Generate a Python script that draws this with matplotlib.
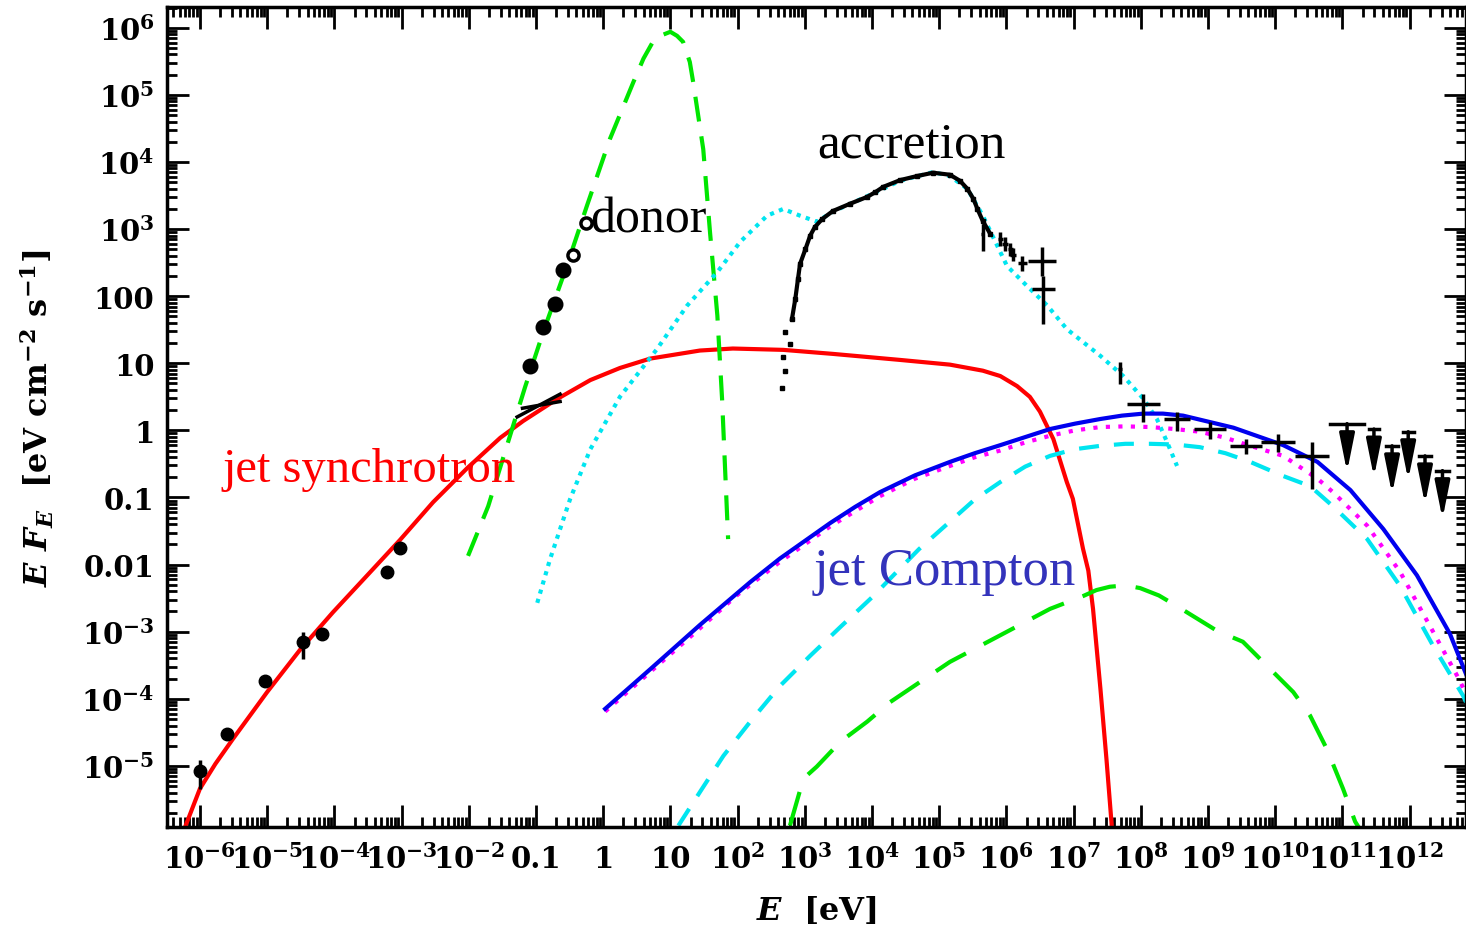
import numpy as np
import matplotlib
matplotlib.use('Agg')
import matplotlib.pyplot as plt
from matplotlib.ticker import LogLocator, NullFormatter

plt.rcParams['mathtext.fontset'] = 'custom'
plt.rcParams['mathtext.rm'] = 'DejaVu Serif:bold'
plt.rcParams['mathtext.it'] = 'DejaVu Serif:italic:bold'
plt.rcParams['mathtext.bf'] = 'DejaVu Serif:bold'

# ---- model curves (log10 E [eV], log10 EF_E [eV cm^-2 s^-1]) ----
sync_logE = [-6.22, -6.00, -5.77, -5.51, -5.00, -4.51, -4.02, -3.51, -3.02, -2.53, -2.02,
             -1.53, -1.19, -0.68, -0.19, 0.25, 0.70, 1.44, 1.93, 2.68, 3.42, 4.42, 5.16,
             5.65, 5.91, 6.16, 6.35, 6.50, 6.70, 6.90, 6.99, 7.14, 7.22, 7.29, 7.40, 7.49, 7.57]
sync_logF = [-5.91, -5.34, -4.97, -4.60, -3.90, -3.27, -2.71, -2.16, -1.63, -1.07, -0.56,
             -0.11, 0.14, 0.47, 0.75, 0.93, 1.07, 1.19, 1.22, 1.20, 1.14, 1.05, 0.98,
             0.89, 0.81, 0.66, 0.50, 0.28, -0.13, -0.77, -1.02, -1.76, -2.09, -2.66, -3.85,
             -4.90, -5.91]

donor_logE = [-2.01, -1.71, -1.16, -0.89, -0.54, -0.24, 0.10, 0.45, 0.60, 0.74, 0.85, 1.0,
              1.10, 1.19, 1.29, 1.34, 1.49, 1.59, 1.70, 1.77, 1.86]
donor_logF = [-1.87, -1.13, 0.65, 1.47, 2.45, 3.35, 4.34, 5.19, 5.54, 5.79, 5.88, 5.94,
              5.88, 5.79, 5.49, 5.19, 4.19, 2.96, 1.71, 0.47, -1.62]

disk_logE = [-0.98, -0.79, -0.49, -0.19, 0.25, 0.80, 1.25, 1.70, 2.04, 2.44, 2.68, 2.93,
             3.18, 3.42, 3.93, 4.42, 4.91, 5.16, 5.42, 5.65, 6.01, 6.31, 6.61, 6.90, 7.40,
             7.74, 8.04, 8.24, 8.39, 8.54]
disk_logF = [-2.57, -1.92, -1.02, -0.28, 0.50, 1.21, 1.86, 2.36, 2.81, 3.20, 3.30, 3.20,
             3.11, 3.26, 3.49, 3.72, 3.85, 3.79, 3.60, 3.20, 2.45, 2.15, 1.86, 1.51, 1.11,
             0.81, 0.47, 0.17, -0.17, -0.53]

comp_logE = [0.03, 0.70, 1.44, 2.19, 2.63, 3.38, 3.75, 4.12, 4.64, 5.16, 5.53, 5.91, 6.28,
             6.65, 7.02, 7.40, 7.72, 8.04, 8.33, 8.63, 9.38, 10.12, 10.63, 11.12, 11.61,
             12.11, 12.60, 12.84]
comp_logF = [-4.15, -3.56, -2.90, -2.26, -1.91, -1.38, -1.14, -0.92, -0.67, -0.47, -0.34,
             -0.22, -0.10, 0.02, 0.10, 0.17, 0.22, 0.25, 0.25, 0.22, 0.04, -0.22, -0.47,
             -0.89, -1.47, -2.16, -3.03, -3.63]

ssc_logE = [0.03, 1.44, 2.00, 2.63, 3.38, 4.12, 4.64, 5.16, 5.53, 5.91, 6.28, 6.65, 7.02,
            7.40, 7.77, 8.14, 8.51, 8.88, 9.26, 9.63, 10.12, 10.63, 10.86, 11.37, 11.86,
            12.35, 12.71, 12.84]
ssc_logF = [-4.19, -2.95, -2.45, -1.96, -1.43, -0.98, -0.72, -0.53, -0.40, -0.30, -0.18,
            -0.08, 0.00, 0.05, 0.06, 0.05, 0.02, -0.02, -0.11, -0.23, -0.38, -0.72, -0.92,
            -1.42, -2.11, -3.00, -3.66, -3.92]

ec_logE = [1.12, 1.44, 1.79, 2.19, 2.63, 3.08, 3.53, 4.02, 4.27, 4.70, 5.16, 5.53, 5.91,
           6.28, 6.65, 7.02, 7.40, 7.77, 8.14, 8.51, 8.88, 9.26, 9.63, 10.12, 10.52, 10.86,
           11.37, 11.86, 12.35, 12.80, 12.84]
ec_logF = [-5.89, -5.39, -4.85, -4.34, -3.81, -3.36, -2.93, -2.47, -2.21, -1.77, -1.36,
           -1.03, -0.77, -0.54, -0.38, -0.28, -0.23, -0.20, -0.20, -0.21, -0.25, -0.34,
           -0.47, -0.68, -0.83, -1.13, -1.62, -2.32, -3.21, -3.96, -4.05]

ic2_logE = [2.78, 2.98, 3.18, 3.53, 3.93, 4.27, 5.16, 6.01, 6.65, 7.14, 7.34, 7.54, 7.77,
            7.99, 8.27, 8.54, 9.14, 9.52, 9.88, 10.27, 10.52, 10.77, 11.01, 11.19, 11.24]
ic2_logF = [-5.89, -5.19, -5.01, -4.64, -4.34, -4.05, -3.45, -3.00, -2.66, -2.47, -2.38,
            -2.33, -2.31, -2.35, -2.46, -2.62, -2.99, -3.15, -3.51, -3.90, -4.25, -4.75,
            -5.34, -5.83, -5.91]

# ---- data ----
radio_logE = [-6.0, -5.6, -5.03, -4.46, -4.18, -3.21, -3.02]
radio_logF = [-5.07, -4.52, -3.73, -3.15, -3.03, -2.11, -1.75]
radio_errlo = [0.27, 0.05, 0.10, 0.26, 0.10, 0.05, 0.05]
radio_errhi = [0.16, 0.05, 0.05, 0.15, 0.07, 0.05, 0.05]

oir_logE = [-1.09, -0.89, -0.71, -0.60, -0.45, -0.25]
oir_logF = [0.96, 1.54, 1.89, 2.39, 2.62, 3.09]
oir_hollow = [False, False, False, False, True, True]

mir_logE = [[-1.28, -0.64], [-1.20, -0.64]]
mir_logF = [[0.20, 0.54], [0.33, 0.43]]

xray_logE = [2.66, 2.71, 2.68, 2.78, 2.71, 2.81, 2.86, 2.90, 2.93, 3.01, 3.08, 3.15, 3.26,
             3.42, 3.68, 3.93, 4.05, 4.17, 4.42, 4.67, 4.91, 5.16, 5.31, 5.42, 5.51, 5.57,
             5.65, 5.76]
xray_logF = [0.63, 0.89, 1.10, 1.29, 1.47, 1.66, 1.96, 2.26, 2.48, 2.70, 2.90, 3.03, 3.15,
             3.27, 3.38, 3.48, 3.55, 3.63, 3.73, 3.79, 3.84, 3.81, 3.72, 3.60, 3.45, 3.30,
             3.12, 2.93]

hx_logE = [5.65, 5.91, 5.98, 6.06, 6.10, 6.24, 6.53, 6.55, 7.69]
hx_logF = [2.93, 2.85, 2.78, 2.70, 2.62, 2.50, 2.53, 2.11, 0.92]
hx_xerr = [0.02, 0.04, 0.04, 0.04, 0.04, 0.07, 0.21, 0.17, 0.03]
hx_ylo = [0.26, 0.10, 0.10, 0.10, 0.10, 0.12, 0.23, 0.52, 0.23]
hx_yhi = [0.15, 0.10, 0.10, 0.10, 0.10, 0.10, 0.20, 0.19, 0.10]

lat_logE = [8.04, 8.54, 9.03, 9.57, 10.04, 10.55]
lat_logF = [0.40, 0.17, 0.02, -0.23, -0.17, -0.38]
lat_xerr = [0.25, 0.19, 0.24, 0.24, 0.25, 0.25]
lat_ylo = [0.27, 0.18, 0.15, 0.12, 0.15, 0.49]
lat_yhi = [0.14, 0.11, 0.11, 0.10, 0.12, 0.21]

ul_logE = [11.07, 11.47, 11.74, 11.98, 12.23, 12.49]
ul_logF = [0.10, 0.02, -0.23, -0.02, -0.38, -0.60]
ul_xerr = [0.25, 0.08, 0.09, 0.08, 0.09, 0.09]

fig = plt.figure(figsize=(14.66, 9.28), dpi=100)
ax = fig.add_axes([0.1139, 0.1078, 0.8861, 0.8836])
ax.set_xscale('log')
ax.set_yscale('log')

p = lambda a: 10.0 ** np.array(a)

ax.plot(p(sync_logE), p(sync_logF), color='#ff0000', lw=3)
ax.plot(p(donor_logE), p(donor_logF), color='#00e600', lw=3, linestyle=(0, (6, 3.6)))
ax.plot(p(disk_logE), p(disk_logF), color='#00e5f0', lw=3, linestyle=(0, (1, 1.3)))
ax.plot(p(ec_logE), p(ec_logF), color='#00e5f0', lw=3, linestyle=(0, (4.8, 3.6)))
ax.plot(p(ic2_logE), p(ic2_logF), color='#00e600', lw=3, linestyle=(0, (8.4, 4.8)))
ax.plot(p(ssc_logE), p(ssc_logF), color='#ff00ff', lw=3, linestyle=(0, (1, 2)))
ax.plot(p(comp_logE), p(comp_logF), color='#0000ee', lw=3)

# data
E = p(radio_logE)
F = p(radio_logF)
ax.errorbar(E, F, yerr=[F - F / p(radio_errlo), F * p(radio_errhi) - F], fmt='o', color='k',
            ms=9, elinewidth=2.5, capsize=0)
for le, lf, h in zip(oir_logE, oir_logF, oir_hollow):
    ax.plot(10 ** le, 10 ** lf, 'o', ms=9 if not h else 8, color='k',
            mfc='white' if h else 'k', mew=2.5)
for le, lf in zip(mir_logE, mir_logF):
    ax.plot(p(le), p(lf), color='k', lw=2.5)
ax.plot(p(xray_logE), p(xray_logF), 's', color='k', ms=3.5)
ax.plot(p(xray_logE[5:]), p(xray_logF[5:]), '-', color='k', lw=3)

for le, lf, xe, ylo, yhi in [(hx_logE, hx_logF, hx_xerr, hx_ylo, hx_yhi),
                             (lat_logE, lat_logF, lat_xerr, lat_ylo, lat_yhi)]:
    E = p(le)
    F = p(lf)
    ax.errorbar(E, F, xerr=[E - E / p(xe), E * p(xe) - E],
                yerr=[F - F / p(ylo), F * p(yhi) - F], fmt='none', ecolor='k',
                elinewidth=2.5, capsize=0)

for le, lf, xe in zip(ul_logE, ul_logF, ul_xerr):
    ax.plot([10 ** (le - xe), 10 ** (le + xe)], [10 ** lf, 10 ** lf], color='k', lw=2.5)
    ax.annotate('', xy=(10 ** le, 10 ** (lf - 0.72)), xytext=(10 ** le, 10 ** lf),
                arrowprops=dict(arrowstyle='-|>,head_length=1.5,head_width=0.3', color='k',
                                lw=2.5, mutation_scale=15, shrinkA=0, shrinkB=0))

# labels
ax.text(10 ** 3.18, 10 ** 4.08, 'accretion', fontsize=37, family='Liberation Serif', color='k')
ax.text(10 ** -0.19, 10 ** 2.97, 'donor', fontsize=36, family='Liberation Serif', color='k')
ax.text(10 ** -5.67, 10 ** -0.75, 'jet synchrotron', fontsize=35, family='Liberation Serif',
        color='#ff0000')
ax.text(10 ** 3.13, 10 ** -2.29, 'jet Compton', fontsize=38, family='Liberation Serif',
        color='#3333bb')

# axes
ax.set_xlim(10 ** -6.49, 10 ** 12.84)
ax.set_ylim(10 ** -5.91, 10 ** 6.31)

xt = [10.0 ** k for k in range(-6, 13)]
xl = ['10$^{-6}$', '10$^{-5}$', '10$^{-4}$', '10$^{-3}$', '10$^{-2}$', '0.1', '1', '10'] + \
     ['10$^{%d}$' % k for k in range(2, 13)]
yt = [10.0 ** k for k in range(-5, 7)]
yl = ['10$^{-5}$', '10$^{-4}$', '10$^{-3}$', '0.01', '0.1', '1', '10', '100'] + \
     ['10$^{%d}$' % k for k in range(3, 7)]
ax.set_xticks(xt, xl)
ax.set_yticks(yt, yl)
ax.xaxis.set_minor_locator(LogLocator(base=10, subs=np.arange(2, 10), numticks=400))
ax.yaxis.set_minor_locator(LogLocator(base=10, subs=np.arange(2, 10), numticks=400))
ax.xaxis.set_minor_formatter(NullFormatter())
ax.yaxis.set_minor_formatter(NullFormatter())
ax.tick_params(which='both', direction='in', top=True, right=True, width=2)
ax.tick_params(which='major', length=16, labelsize=21)
ax.tick_params(axis='x', which='major', pad=12)
ax.tick_params(axis='y', which='major', pad=9)
ax.tick_params(which='minor', length=7)
for lab in ax.get_xticklabels() + ax.get_yticklabels():
    lab.set_family('DejaVu Serif')
    lab.set_fontweight('bold')
for s in ax.spines.values():
    s.set_linewidth(2.5)

ax.set_xlabel(r'$E$  [eV]', fontsize=23, family='DejaVu Serif', fontweight='bold', labelpad=14)
ax.set_ylabel(r'$E\ F_E$  [eV cm$^{-2}$ s$^{-1}$]', fontsize=23, family='DejaVu Serif',
              fontweight='bold', labelpad=18)

fig.savefig('out.png', dpi=100)
